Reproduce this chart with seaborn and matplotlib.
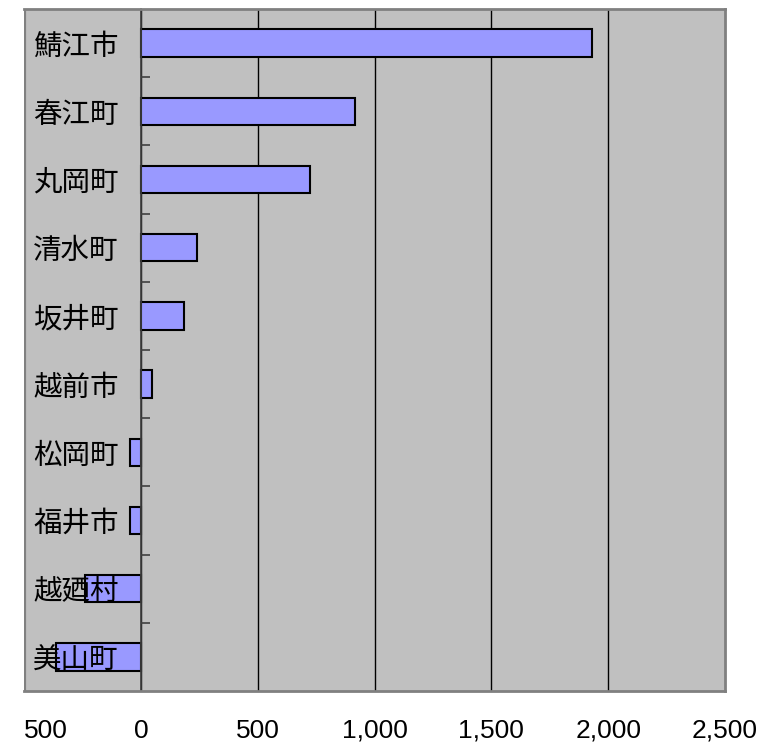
import numpy as np
import matplotlib.pyplot as plt
import seaborn as sns

# 市町村別の値（上から順）
cities = ['鯖江市', '春江町', '丸岡町', '清水町', '坂井町', '越前市', '松岡町', '福井市', '越廼村', '美山町']
values = [1930, 916, 723, 240, 184, 47, -47, -47, -240, -364]
x_ticks = [-500, 0, 500, 1000, 1500, 2000, 2500]
x_tick_labels = ['500', '0', '500', '1,000', '1,500', '2,000', '2,500']

fig = plt.figure(figsize=(7.63, 7.47), dpi=100)
ax = fig.add_axes([24 / 763, 1 - 691 / 747, 701 / 763, 682 / 747])
ax.set_facecolor('#C0C0C0')

sns.barplot(x=values, y=cities, orient='h', color='#9999FF', saturation=1,
            width=0.4, edgecolor='black', linewidth=1.5, ax=ax)

ax.set_xlim(x_ticks[0], x_ticks[-1])
ax.set_ylim(len(cities) - 0.5, -0.5)
ax.set_xlabel('')
ax.set_ylabel('')

# 縦の目盛線（棒の後ろ）
for xv in x_ticks[1:-1]:
    ax.axvline(xv, color='black', linewidth=1, zorder=0.5)
ax.grid(False)
ax.set_axisbelow(False)

# 枠線
for side in ['top', 'right', 'bottom']:
    ax.spines[side].set_color('#808080')
    ax.spines[side].set_linewidth(2)
ax.spines['left'].set_position(('data', 0))
ax.spines['left'].set_color('#404040')
ax.spines['left'].set_linewidth(1.2)
# 左端の枠
ax.axvline(x_ticks[0], color='#808080', linewidth=3, zorder=3)

# x軸ラベル
ax.set_xticks(x_ticks)
ax.set_xticklabels(x_tick_labels, fontsize=19, family=['Liberation Sans', 'DejaVu Sans'])
ax.tick_params(axis='x', length=0, pad=20)
ax.get_xticklabels()[0].set_horizontalalignment('left')

# y軸ラベル
ax.set_yticks(np.arange(len(cities)))
ax.set_yticklabels(cities, fontsize=20.5, family=['Noto Sans CJK JP', 'DejaVu Sans'])
ax.tick_params(axis='y', which='major', length=0, pad=16)
ax.set_yticks(np.arange(len(cities) - 1) + 0.5, minor=True)
ax.tick_params(axis='y', which='minor', direction='in', length=6.5, width=1.2, color='#404040')

fig.savefig('out.png', dpi=100)
